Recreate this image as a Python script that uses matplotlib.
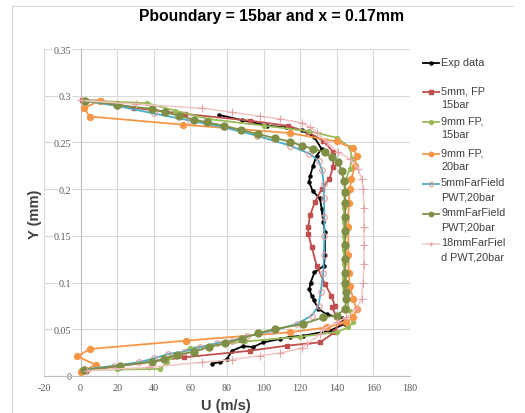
import matplotlib
matplotlib.use("Agg")
import matplotlib.pyplot as plt
from matplotlib.lines import Line2D

plt.rcParams["axes.unicode_minus"] = False

# ---------------- data ----------------
exp_u = [75.4, 88, 102, 112, 120.8, 127.6, 131.7, 129, 127, 125.4, 124.8, 126.8, 130.8, 131.7,
         132.6, 133.5, 133.5, 133, 127.8, 125.7, 125, 126.2, 127.5, 129.9, 134.4, 142.6, 144.4,
         136.2, 121.5, 114.4, 109, 99.8, 94.3, 88.8, 82.7, 79.9, 76.3, 71.8]
exp_y = [0.2795, 0.274, 0.268, 0.266, 0.263, 0.256, 0.243, 0.236, 0.225, 0.214, 0.208, 0.198, 0.190,
         0.179, 0.165, 0.154, 0.130, 0.118, 0.111, 0.100, 0.093, 0.086, 0.081, 0.072, 0.066, 0.062,
         0.056, 0.0485, 0.043, 0.042, 0.0396, 0.036, 0.031, 0.032, 0.027, 0.018, 0.015, 0.0132]

fp5_u = [0.5, 10.9, 29, 57, 92.6, 113.4, 124.3, 132.4, 138, 138, 136, 131.7, 128, 125.4, 124.4,
         124.4, 126.3, 129, 133.5, 137, 139, 137.5, 141, 139, 130.8, 112.6, 92.6, 56.3, 2.7]
fp5_y = [0.295, 0.2948, 0.287, 0.2805, 0.2733, 0.2677, 0.261, 0.252, 0.240, 0.224, 0.211, 0.200,
         0.186, 0.172, 0.160, 0.152, 0.138, 0.118, 0.0985, 0.086, 0.075, 0.0735, 0.058, 0.047,
         0.036, 0.0325, 0.027, 0.020, 0.0057]

fp9_15_u = [2, 36.3, 51.8, 70, 100, 125, 140, 147, 148.5, 147, 145, 144.2, 144, 143.8, 143.8, 143.8,
            144, 144, 144.2, 145, 147, 149, 146, 140, 120, 90, 60, 52.7, 49, 47.2, 43.6, 20, 0]
fp9_15_y = [0.295, 0.292, 0.284, 0.275, 0.268, 0.262, 0.255, 0.245, 0.232, 0.222, 0.21, 0.195, 0.18,
            0.165, 0.15, 0.135, 0.12, 0.105, 0.095, 0.085, 0.07, 0.0575, 0.052, 0.047, 0.042, 0.037,
            0.030, 0.0235, 0.020, 0.0147, 0.0075, 0.007, 0.0064]

fp9_20_u = [10.5, 1.8, 5.1, 56, 114.4, 139.9, 149, 150.8, 149.9, 148, 147, 146.5, 146.3, 146.3, 146.5,
            147, 149, 150.8, 149, 145.3, 134.4, 114.4, 57.6, 5.1, -1.8, 8.2, 0]
fp9_20_y = [0.2948, 0.2866, 0.2777, 0.269, 0.260, 0.251, 0.2437, 0.236, 0.225, 0.211, 0.200, 0.185,
            0.16, 0.13, 0.11, 0.0967, 0.0824, 0.0717, 0.0628, 0.0575, 0.052, 0.0468, 0.0378, 0.0289,
            0.021, 0.0121, 0.004]

ff5_u = [1.8, 20, 40, 60, 78.1, 96.3, 114.4, 125, 130, 132, 132.8, 133, 133.2, 133.2, 133, 132.6,
         131.2, 130, 126.3, 118, 105.3, 90.8, 82.7, 74.5, 65.4, 56.3, 47.8, 40.3, 31.8, 18.2, 2]
ff5_y = [0.2948, 0.289, 0.281, 0.2733, 0.2662, 0.2573, 0.2466, 0.238, 0.2305, 0.22, 0.205, 0.19,
         0.17, 0.15, 0.13, 0.11, 0.0896, 0.0753, 0.0646, 0.0557, 0.0485, 0.0425, 0.0378, 0.0353,
         0.0307, 0.026, 0.0235, 0.019, 0.0147, 0.011, 0.007]

ff9_u = [2.2, 20, 39, 46.3, 53.6, 61.8, 69, 78.1, 87.7, 96.8, 106.3, 114.4, 120.8, 127.2, 133.5,
         137.2, 140.8, 142.6, 143.9, 144.5, 144.6, 144.6, 144.6, 144.6, 144.6, 144.6, 144.7, 145,
         145.3, 144.4, 139.9, 132.6, 121.7, 106.3, 97.2, 88.1, 79, 70, 61.8, 52.7, 45.4, 39, 21.4, 1.8]
ff9_y = [0.2948, 0.290, 0.2859, 0.2823, 0.2787, 0.2745, 0.2715, 0.268, 0.2634, 0.259, 0.2545,
         0.2509, 0.2466, 0.243, 0.2395, 0.234, 0.2288, 0.2198, 0.209, 0.197, 0.185, 0.17, 0.155,
         0.14, 0.125, 0.11, 0.10, 0.09, 0.0824, 0.0717, 0.0646, 0.0628, 0.0557, 0.0503, 0.046,
         0.040, 0.035, 0.031, 0.026, 0.0225, 0.0182, 0.0153, 0.011, 0.0064]

ff18_u = [0, 30, 66.3, 82.7, 98, 109, 120.8, 125.4, 129, 134.4, 140.8, 147.1, 151.7, 153.5, 154.4,
          154.8, 154.8, 154.8, 154.8, 154.4, 153.5, 150.8, 145.3, 139.9, 132.6, 130.8, 123.5, 120.8,
          109, 98.1, 82.7, 66.3, 37.2, 3.6]
ff18_y = [0.295, 0.291, 0.2866, 0.2823, 0.278, 0.2752, 0.2709, 0.2663, 0.261, 0.2502, 0.2395,
          0.2323, 0.2216, 0.211, 0.2002, 0.18, 0.16, 0.14, 0.12, 0.1, 0.0824, 0.0717, 0.0628, 0.0575,
          0.0503, 0.045, 0.034, 0.0296, 0.0246, 0.0217, 0.0175, 0.0147, 0.0093, 0.0057]

labels = ["Exp data", "5mm, FP\n15bar", "9mm FP,\n15bar", "9mm FP,\n20bar",
          "5mmFarField\nPWT,20bar", "9mmFarField\nPWT,20bar", "18mmFarFiel\nd PWT,20bar"]
x_ticks = [-20, 0, 20, 40, 60, 80, 100, 120, 140, 160, 180]
y_ticks = [0, 0.05, 0.1, 0.15, 0.2, 0.25, 0.3, 0.35]
y_tick_labels = ["0", "0.05", "0.1", "0.15", "0.2", "0.25", "0.3", "0.35"]

# ---------------- figure ----------------
W, H = 525, 414
fig = plt.figure(figsize=(W / 100, H / 100), dpi=100)
ax = fig.add_axes([44 / W, 1 - 377 / H, (410 - 44) / W, (377 - 50) / H])

styles = [
    dict(color="black", lw=1.3, marker="o", ms=2.2, mfc="black", mec="black"),
    dict(color="#C0504D", lw=1.3, marker="s", ms=2.6, mfc="#C0504D", mec="#C0504D"),
    dict(color="#9BBB59", lw=1.3, marker="o", ms=2.8, mfc="#9BBB59", mec="#9BBB59"),
    dict(color="#F79646", lw=1.3, marker="o", ms=4.3, mfc="#F79646", mec="#F79646"),
    dict(color="#4BACC6", lw=1.3, marker="o", ms=4.0, mfc="none", mec="#E39A9A", mew=0.8),
    dict(color="#7F8F45", lw=1.3, marker="o", ms=5.0, mfc="#7F8F45", mec="#7F8F45"),
    dict(color="#F2C6C6", lw=1.1, marker="+", ms=5.5, mfc="#E3A3A3", mec="#E3A3A3", mew=0.8),
]
series = [(exp_u, exp_y), (fp5_u, fp5_y), (fp9_15_u, fp9_15_y), (fp9_20_u, fp9_20_y),
          (ff5_u, ff5_y), (ff9_u, ff9_y), (ff18_u, ff18_y)]
for i, ((u, y), st) in enumerate(zip(series, styles)):
    ax.plot(u, y, zorder=3 + i, clip_on=False, **st)

ax.set_xlim(-20, 180)
ax.set_ylim(0, 0.35)
ax.set_xticks(x_ticks)
ax.set_yticks(y_ticks)
ax.set_yticklabels(y_tick_labels)
ax.grid(True, color="#D9D9D9", lw=0.8, zorder=0)
ax.set_axisbelow(True)
for s in ["top", "right"]:
    ax.spines[s].set_visible(False)
ax.spines["left"].set_position(("data", 0))
ax.spines["left"].set_color("#BFBFBF")
ax.spines["bottom"].set_color("#BFBFBF")
ax.spines["left"].set_zorder(1)
ax.tick_params(axis="both", length=0, colors="#595959", labelsize=7.3)
ax.tick_params(axis="y", pad=6.5)
ax.tick_params(axis="x", pad=5)
for lab in ax.get_xticklabels() + ax.get_yticklabels():
    lab.set_fontfamily("Liberation Serif")
for lab in ax.get_yticklabels():
    lab.set_bbox(dict(facecolor="white", edgecolor="none", pad=0.5))

fig.text(272 / W, 1 - 17 / H, "Pboundary = 15bar and x = 0.17mm", ha="center", va="center",
         fontsize=11.3, fontweight="bold", family="Liberation Sans")
fig.text(226 / W, 1 - 406 / H, "U (m/s)", ha="center", va="center", fontsize=10.5,
         fontweight="bold", family="Liberation Sans", color="#404040")
fig.text(35 / W, 1 - 214 / H, "Y (mm)", ha="center", va="center", rotation=90, fontsize=10.5,
         fontweight="bold", family="Liberation Sans", color="#404040")

# legend (manual)
leg_y = [64, 93, 123, 155, 185, 215, 245]
for st, lab, yy in zip(styles, labels, leg_y):
    yf = 1 - yy / H
    fig.add_artist(Line2D([423 / W, 439 / W], [yf, yf], color=st["color"], lw=st["lw"]))
    fig.add_artist(Line2D([431 / W], [yf], marker=st["marker"], ms=min(st["ms"], 3.2),
                          mfc=st["mfc"], mec=st["mec"], mew=st.get("mew", 1), lw=0))
    fig.text(441 / W, yf + 6.5 / H, lab, ha="left", va="top", fontsize=7.8,
             family="Liberation Sans", color="#404040", linespacing=1.5)

# chart frame
fig.add_artist(Line2D([12 / W, 513 / W], [1 - 7 / H, 1 - 7 / H], color="#D9D9D9", lw=0.8))
fig.add_artist(Line2D([12 / W, 12 / W], [1 - 7 / H, 0], color="#D9D9D9", lw=0.8))

fig.savefig("out.png", dpi=100)
